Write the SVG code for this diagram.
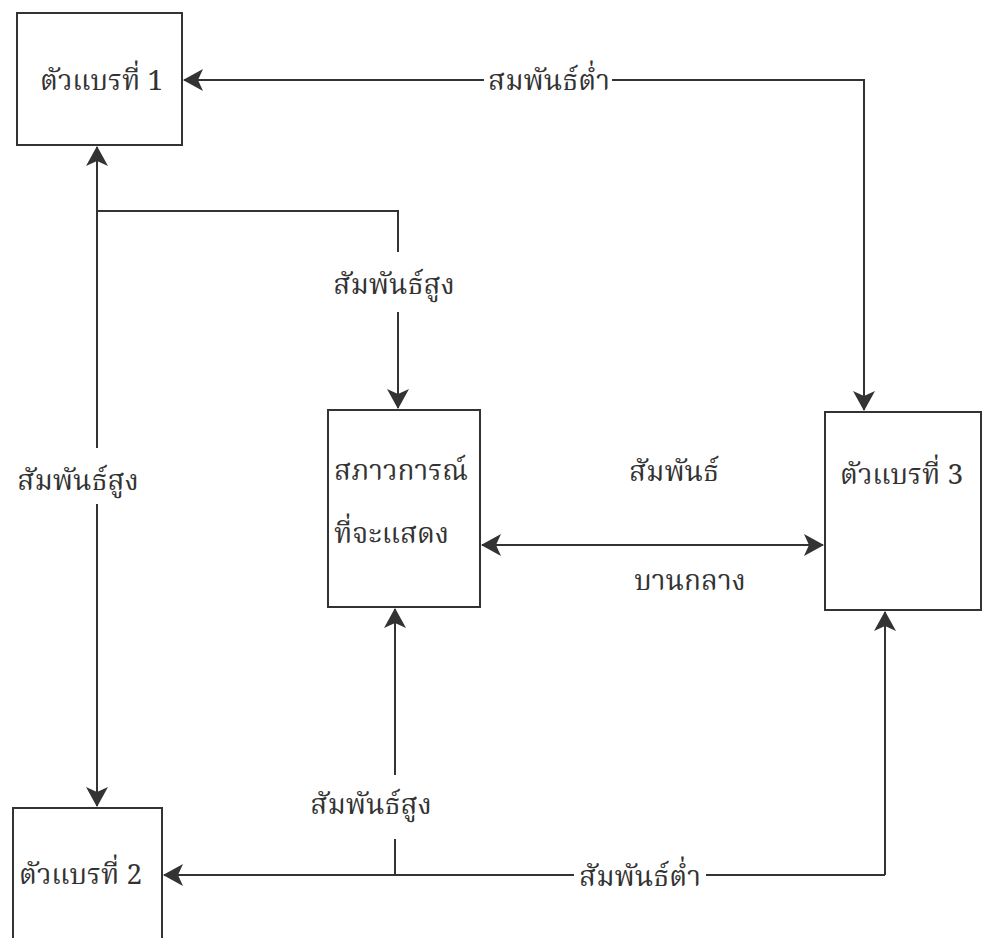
<svg xmlns="http://www.w3.org/2000/svg" width="983" height="938" viewBox="0 0 983 938">
<style>
.box{fill:#fff;stroke:#333;stroke-width:2}
.ln{fill:none;stroke:#333;stroke-width:2}
.t{font-family:"Noto Serif Thai","Noto Sans Thai","Liberation Serif","DejaVu Serif",serif;font-size:28px;fill:#333}
.lbl{font-family:"Noto Serif Thai","Noto Sans Thai","Liberation Serif","DejaVu Serif",serif;font-size:28px;fill:#333}
</style>
<defs>
<marker id="ah" viewBox="0 0 20 24" refX="19" refY="12" markerWidth="20" markerHeight="24" markerUnits="userSpaceOnUse" orient="auto-start-reverse">
<path d="M0,1 L20,12 L0,23 L5,12 Z" fill="#333"/>
</marker>
</defs>
<rect width="983" height="938" fill="#fff"/>
<g id="connectors">
<path class="ln" d="M864,410 L864,80 L184,80" marker-start="url(#ah)" marker-end="url(#ah)"/>
<path class="ln" d="M97,472 L97,147" marker-end="url(#ah)"/>
<path class="ln" d="M97,472 L97,806" marker-end="url(#ah)"/>
<path class="ln" d="M97,211 L398,211 L398,408" marker-end="url(#ah)"/>
<path class="ln" d="M482,545 L823,545" marker-start="url(#ah)" marker-end="url(#ah)"/>
<path class="ln" d="M395,875 L395,609" marker-end="url(#ah)"/>
<path class="ln" d="M885,875 L885,612" marker-end="url(#ah)"/>
<path class="ln" d="M885,875 L164,875" marker-end="url(#ah)"/>
<rect x="484" y="64" width="128" height="32" fill="#fff"/>
<text class="lbl" x="549" y="90" text-anchor="middle">สมพันธ์ต่ำ</text>
<rect x="328" y="252" width="132" height="60" fill="#fff"/>
<text class="lbl" x="394" y="294" text-anchor="middle">สัมพันธ์สูง</text>
<rect x="12" y="448" width="134" height="56" fill="#fff"/>
<text class="lbl" x="78" y="490" text-anchor="middle">สัมพันธ์สูง</text>
<text class="lbl" x="674" y="481" text-anchor="middle">สัมพันธ์</text>
<text class="lbl" x="690" y="590" text-anchor="middle">บานกลาง</text>
<rect x="303" y="775" width="134" height="64" fill="#fff"/>
<text class="lbl" x="371" y="814" text-anchor="middle">สัมพันธ์สูง</text>
<rect x="574" y="858" width="132" height="34" fill="#fff"/>
<text class="lbl" x="640" y="886" text-anchor="middle">สัมพันธ์ต่ำ</text>
</g>
<g id="node-var1">
<rect class="box" x="17" y="13" width="165" height="132"/>
<text class="t" x="40" y="90">ตัวแบรที่ 1</text>
</g>
<g id="node-situation">
<rect class="box" x="328" y="410" width="152" height="197"/>
<text class="t" x="334" y="480">สภาวการณ์</text>
<text class="t" x="334" y="543">ที่จะแสดง</text>
</g>
<g id="node-var3">
<rect class="box" x="825" y="412" width="156" height="198"/>
<text class="t" x="840" y="484">ตัวแบรที่ 3</text>
</g>
<g id="node-var2">
<rect class="box" x="13" y="808" width="149" height="140"/>
<text class="t" x="19" y="884">ตัวแบรที่ 2</text>
</g>
</svg>
